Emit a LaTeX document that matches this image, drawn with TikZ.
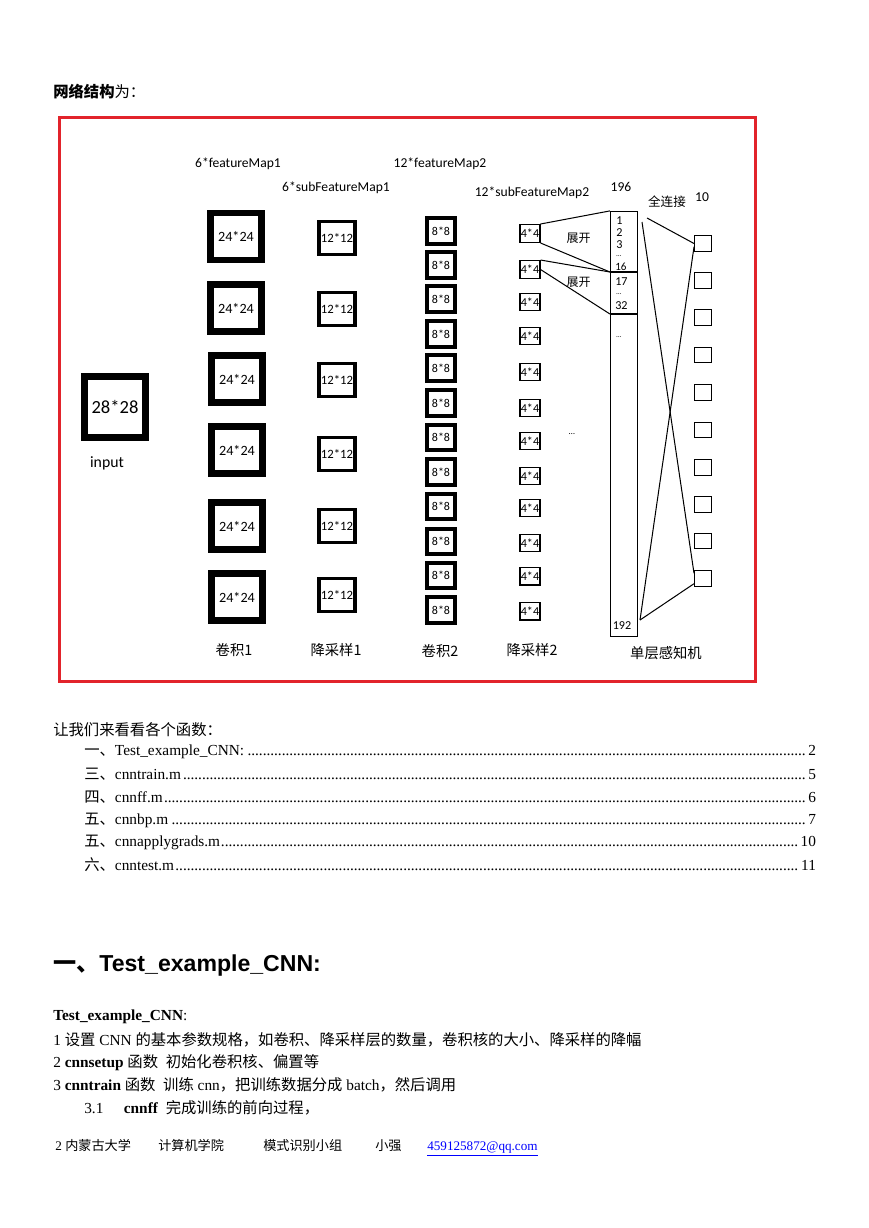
\documentclass[tikz,border=0pt]{standalone}
\usepackage{fontspec}
\setmainfont{Liberation Serif}
\newfontfamily\zhfont{Noto Sans CJK SC}
\newfontfamily\calib{Carlito}
\newfontfamily\arialf{Liberation Sans}
\usetikzlibrary{positioning}
\definecolor{framered}{HTML}{E2232B}
\definecolor{linkblue}{HTML}{0000FF}
\newcommand{\zh}[1]{{\zhfont #1}}
\newcommand{\tocrow}[2]{\hbox to 501pt{#1\leaders\hbox to 2.6pt{\hss.\hss}\hfill#2}}
\tikzset{
  box/.style={draw=black,fill=white,inner sep=0pt,font=\calib},
  inp/.style={box,line width=4.45pt,minimum width=42.1pt,minimum height=42.1pt,font=\calib\fontsize{12.7}{14}\selectfont},
  cv1/.style={box,line width=4.45pt,minimum width=34.6pt,minimum height=32.5pt,font=\calib\fontsize{9.7}{11}\selectfont},
  sb1/.style={box,line width=2.7pt,minimum width=24.6pt,minimum height=22.6pt,font=\calib\fontsize{8.7}{10}\selectfont},
  cv2/.style={box,line width=3pt,minimum width=19.5pt,minimum height=17.5pt,font=\calib\fontsize{8.2}{9}\selectfont},
  sb2/.style={box,line width=1pt,minimum width=13.4pt,minimum height=12pt,font=\calib\fontsize{8.3}{9}\selectfont},
  outb/.style={box,line width=.9pt,minimum width=11.4pt,minimum height=10.7pt},
  vec/.style={box,line width=.8pt,minimum width=18.5pt,minimum height=291pt},
  lab/.style={inner sep=0pt,font=\calib\fontsize{9.3}{11}\selectfont},
  zlab/.style={inner sep=0pt,font=\zhfont\fontsize{9.8}{11}\selectfont},
  zsml/.style={inner sep=0pt,font=\zhfont\fontsize{8.2}{9}\selectfont},
  num/.style={inner sep=0pt,anchor=west,font=\calib\fontsize{8.3}{9}\selectfont},
  vdots/.style={num,font=\calib\fontsize{5}{5}\selectfont},
  fl/.style={draw=black,line width=.7pt},
  txt/.style={inner sep=0pt,anchor=west,font=\fontsize{10.5}{12}\selectfont},
  foot/.style={inner sep=0pt,anchor=base west,font=\fontsize{9}{11}\selectfont}
}

\begin{document}
\begin{tikzpicture}[x=0.6847pt,y=-0.6847pt]
\useasboundingbox[fill=white] (0,0) rectangle (869,1228);

\node[txt] (ttl) at (53,92) {\zh{\bfseries 网络结构}\zh{为：}};
\draw[framered,line width=2pt] (59.5,117.5) rectangle (755.5,681.5);

\node[lab] (l1) at (238,164) {6*featureMap1};
\node[lab] (l2) at (336,188) {6*subFeatureMap1};
\node[lab] (l3) at (440,164) {12*featureMap2};
\node[lab] (l4) at (532,193) {12*subFeatureMap2};
\node[lab] (n196) at (621,187) {196};
\node[zsml,font=\zhfont\fontsize{8.6}{9}\selectfont] (fcl) at (667,202) {全连接};
\node[lab] (n10) at (702,197) {10};

\node[inp] (in1) at (115,407) {28*28};
\node[lab,font=\calib\fontsize{10.8}{12}\selectfont] (inl) at (107,463) {input};

\node[cv1] (c1a) at (236,236.5) {24*24};
\node[cv1] (c1b) at (236,308) {24*24};
\node[cv1] (c1c) at (237,379) {24*24};
\node[cv1] (c1d) at (237,450) {24*24};
\node[cv1] (c1e) at (237,526) {24*24};
\node[cv1] (c1f) at (237,597) {24*24};

\node[sb1] (s1a) at (337,238) {12*12};
\node[sb1] (s1b) at (337,309) {12*12};
\node[sb1] (s1c) at (337,380) {12*12};
\node[sb1] (s1d) at (337,454) {12*12};
\node[sb1] (s1e) at (337,526) {12*12};
\node[sb1] (s1f) at (337,595) {12*12};

\node[cv2] (c2a) at (441,231) {8*8};
\node[cv2] (c2b) at (441,265) {8*8};
\node[cv2] (c2c) at (441,299) {8*8};
\node[cv2] (c2d) at (441,334) {8*8};
\node[cv2] (c2e) at (441,368) {8*8};
\node[cv2] (c2f) at (441,403) {8*8};
\node[cv2] (c2g) at (441,437.5) {8*8};
\node[cv2] (c2h) at (441,472) {8*8};
\node[cv2] (c2i) at (441,506.5) {8*8};
\node[cv2] (c2j) at (441,541.5) {8*8};
\node[cv2] (c2k) at (441,575.5) {8*8};
\node[cv2] (c2l) at (441,610) {8*8};

\node[sb2] (s2a) at (530,233.5) {4*4};
\node[sb2] (s2b) at (530,269.5) {4*4};
\node[sb2] (s2c) at (530,302) {4*4};
\node[sb2] (s2d) at (530,336) {4*4};
\node[sb2] (s2e) at (530,372) {4*4};
\node[sb2] (s2f) at (530,408) {4*4};
\node[sb2] (s2g) at (530,441) {4*4};
\node[sb2] (s2h) at (530,476) {4*4};
\node[sb2] (s2i) at (530,508) {4*4};
\node[sb2] (s2j) at (530,543) {4*4};
\node[sb2] (s2k) at (530,576) {4*4};
\node[sb2] (s2l) at (530,611) {4*4};
\node[lab,font=\calib\fontsize{6}{7}\selectfont] (mdots) at (572,434) {…};

\node[zsml] (zk1) at (578.5,238) {展开};
\node[zsml] (zk2) at (578.5,282) {展开};

\node[vec] (vec) at (624,424) {};
\coordinate (d1) at (vec.west |- 0,272);
\coordinate (d2) at (vec.west |- 0,314);
\draw[fl] (d1) -- (d1 -| vec.east);
\draw[fl] (d2) -- (d2 -| vec.east);
\node[num] (v1) at (616,220.5) {1};
\node[num] (v2) at (616,233) {2};
\node[num] (v3) at (616,245) {3};
\node[vdots] (v4) at (616,256) {…};
\node[num,font=\calib\fontsize{7.6}{8}\selectfont] (v16) at (615,267) {16};
\node[num] (v17) at (615,282) {17};
\node[vdots] (v18) at (616,294) {…};
\node[num] (v32) at (615,305.5) {32};
\node[vdots] (v33) at (616,337) {…};
\node[num] (v192) at (612.5,626) {192};

\node[outb] (o1) at (703,243.5) {};
\node[outb] (o2) at (703,280.5) {};
\node[outb] (o3) at (703,317.5) {};
\node[outb] (o4) at (703,355) {};
\node[outb] (o5) at (703,392.5) {};
\node[outb] (o6) at (703,430) {};
\node[outb] (o7) at (703,467.5) {};
\node[outb] (o8) at (703,504.5) {};
\node[outb] (o9) at (703,541) {};
\node[outb] (o10) at (703,578.5) {};

\draw[fl] (s2a.north east) -- (vec.north west);
\draw[fl] (s2a.south east) -- (d1);
\draw[fl] (s2b.north east) -- (d1);
\draw[fl] (s2b.east) -- (d2);

\coordinate (fa) at (647,218);
\coordinate (fb) at (642,222);
\coordinate (fc) at (640,620);
\draw[fl] (fa) -- (o1.west);
\draw[fl] (fb) -- (o10.150);
\draw[fl] (o1.200) -- (fc);
\draw[fl] (fc) -- (o10.210);

\node[zlab] (b1) at (234,650) {卷积1};
\node[zlab] (b2) at (336,650) {降采样1};
\node[zlab] (b3) at (440,651) {卷积2};
\node[zlab] (b4) at (532,650) {降采样2};
\node[zlab] (b5) at (666,653) {单层感知机};

\node[txt] (intro) at (53,730) {\zh{让我们来看看各个函数：}};
\node[txt] (toc1) at (84,752) {\tocrow{\zh{一、}Test\_example\_CNN:}{2}};
\node[txt] (toc2) at (84,774.5) {\tocrow{\zh{三、}cnntrain.m}{5}};
\node[txt] (toc3) at (84,797.5) {\tocrow{\zh{四、}cnnff.m}{6}};
\node[txt] (toc4) at (84,820) {\tocrow{\zh{五、}cnnbp.m}{7}};
\node[txt] (toc5) at (84,842.5) {\tocrow{\zh{五、}cnnapplygrads.m}{10}};
\node[txt] (toc6) at (84,865) {\tocrow{\zh{六、}cnntest.m}{11}};

\node[txt,font=\arialf\bfseries\fontsize{15.8}{18}\selectfont] (h1) at (53,966) {\zh{一、}Test\_example\_CNN:};
\node[txt] (p0) at (53,1017) {\textbf{Test\_example\_CNN}:};
\node[txt] (p1) at (53,1040) {1 \zh{设置} CNN \zh{的基本参数规格，如卷积、降采样层的数量，卷积核的大小、降采样的降幅}};
\node[txt] (p2) at (53,1063) {2 \textbf{cnnsetup} \zh{函数\enspace 初始化卷积核、偏置等}};
\node[txt] (p3) at (53,1085) {3 \textbf{cnntrain} \zh{函数\enspace 训练} cnn\zh{，把训练数据分成} batch\zh{，然后调用}};
\node[txt] (p4) at (84,1108) {3.1\hspace{14pt}\textbf{cnnff}\enspace\zh{完成训练的前向过程，}};

\node[foot] (f1) at (55,1150) {2};
\node[foot] (f2) at (65,1150) {\zh{内蒙古大学}};
\node[foot] (f3) at (158,1150) {\zh{计算机学院}};
\node[foot] (f4) at (263,1150) {\zh{模式识别小组}};
\node[foot] (f5) at (375,1150) {\zh{小强}};
\node[foot,text=linkblue] (f6) at (427,1150) {\underline{459125872@qq.com}};
\end{tikzpicture}
\end{document}
